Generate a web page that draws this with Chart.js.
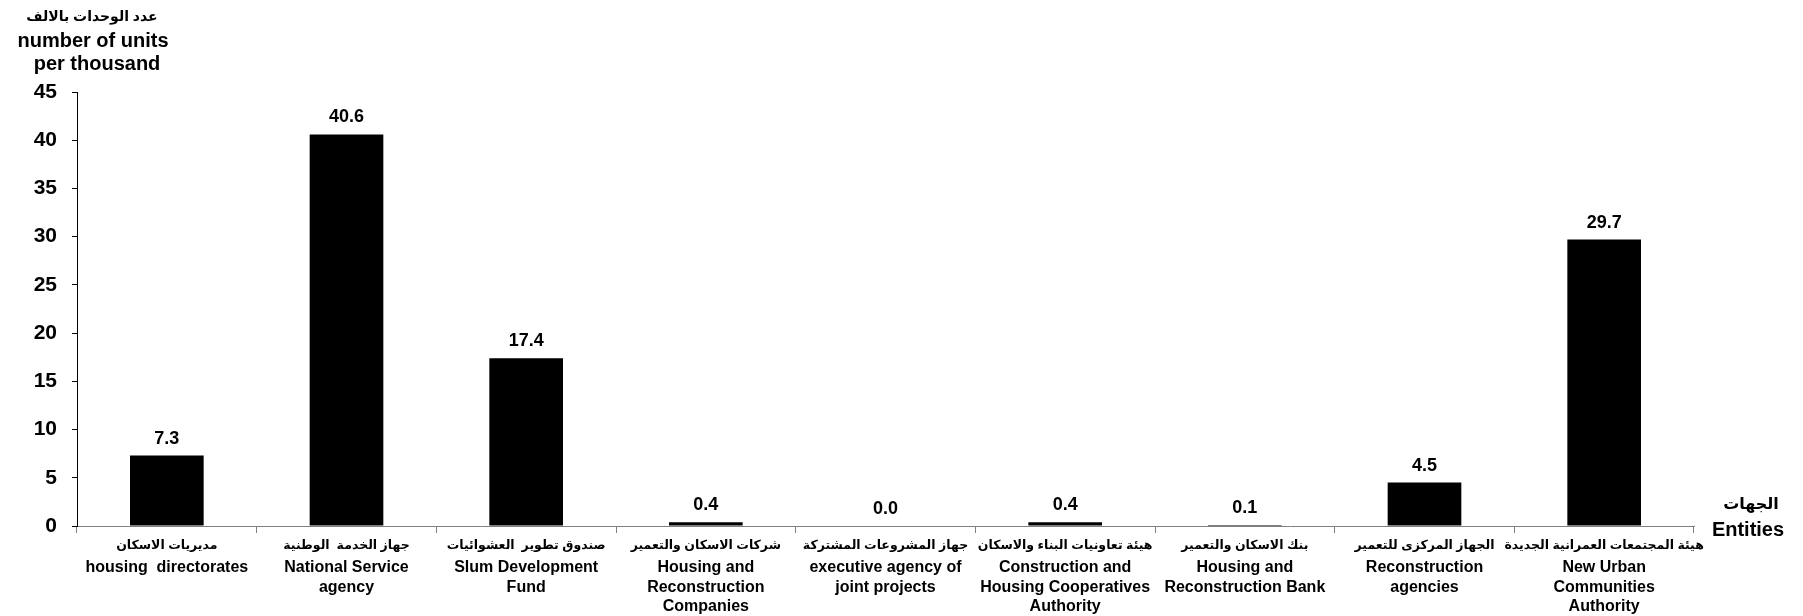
<!DOCTYPE html>
<html>
<head>
<meta charset="utf-8">
<script src="https://cdn.jsdelivr.net/npm/chart.js@4.4.1/dist/chart.umd.min.js"></script>
<style>
  body { margin: 0; background: #fff; }
  #wrap { width: 1803px; height: 616px; }
</style>
</head>
<body>
<div id="wrap"><canvas id="barChart" width="1803" height="616"></canvas></div>
<script>
// data
const categoriesAr = [
  'مديريات الاسكان',
  'جهاز الخدمة  الوطنية',
  'صندوق تطوير  العشوائيات',
  'شركات الاسكان والتعمير',
  'جهاز المشروعات المشتركة',
  'هيئة تعاونيات البناء والاسكان',
  'بنك الاسكان والتعمير',
  'الجهاز المركزى للتعمير',
  'هيئة المجتمعات العمرانية الجديدة'
];
const categoriesEn = [
  ['housing  directorates'],
  ['National Service', 'agency'],
  ['Slum Development', 'Fund'],
  ['Housing and', 'Reconstruction', 'Companies'],
  ['executive agency of', 'joint projects'],
  ['Construction and', 'Housing Cooperatives', 'Authority'],
  ['Housing and', 'Reconstruction Bank'],
  ['Reconstruction', 'agencies'],
  ['New Urban', 'Communities', 'Authority']
];
const units = [7.3, 40.6, 17.4, 0.4, 0.0, 0.4, 0.1, 4.5, 29.7];
const yMin = 0, yMax = 45, yStep = 5;
const yTitle = ['عدد الوحدات بالالف', 'number of units', 'per thousand'];
const xTitle = ['الجهات', 'Entities'];

const FONT = '"Liberation Sans", Arial, "DejaVu Sans", sans-serif';

// values above bars + axis titles + category labels
const extraText = {
  id: 'extraText',
  afterDatasetsDraw(chart) {
    const ctx = chart.ctx;
    const meta = chart.getDatasetMeta(0);
    ctx.save();
    ctx.fillStyle = '#000';
    ctx.textAlign = 'center';
    ctx.textBaseline = 'alphabetic';
    ctx.font = 'bold 18px ' + FONT;
    meta.data.forEach(function (bar, i) {
      ctx.fillText(units[i].toFixed(1), bar.x, bar.y - 12);
    });

    // category labels (arabic line + english lines)
    const xScale = chart.scales.x;
    categoriesAr.forEach(function (ar, i) {
      const cx = xScale.getPixelForValue(i);
      ctx.font = 'bold 12.5px ' + FONT;
      ctx.fillText(ar, cx, 549);
      ctx.font = 'bold 16px ' + FONT;
      categoriesEn[i].forEach(function (line, j) {
        ctx.fillText(line, cx, 572 + j * 19.5);
      });
    });

    // y title
    ctx.font = 'bold 14px ' + FONT;
    ctx.fillText(yTitle[0], 92, 21);
    ctx.font = 'bold 20px ' + FONT;
    ctx.fillText(yTitle[1], 93, 47);
    ctx.fillText(yTitle[2], 97, 70);

    // x title
    ctx.font = 'bold 16px ' + FONT;
    ctx.fillText(xTitle[0], 1751, 509);
    ctx.font = 'bold 20px ' + FONT;
    ctx.fillText(xTitle[1], 1748, 536);
    ctx.restore();
  }
};

new Chart(document.getElementById('barChart'), {
  type: 'bar',
  data: {
    labels: categoriesEn.map(function (l) { return l.join(' '); }),
    datasets: [
      {
        data: units,
        backgroundColor: '#000',
        borderWidth: 0,
        barPercentage: 0.41,
        categoryPercentage: 1,
      },
    ],
  },
  options: {
    responsive: false,
    animation: false,
    layout: { padding: { top: 92, right: 109, left: 0, bottom: 0 } },
    plugins: {
      legend: { display: false },
      tooltip: { enabled: false },
    },
    scales: {
      x: {
        offset: true,
        grid: { drawOnChartArea: false, color: '#808080', tickLength: 7, offset: true },
        border: { color: '#808080', width: 1 },
        ticks: { display: false },
        afterFit: function (s) { s.height = 90; },
      },
      y: {
        min: yMin,
        max: yMax,
        ticks: {
          stepSize: yStep,
          color: '#000',
          padding: 15,
          font: { family: FONT, size: 21, weight: 'bold' },
        },
        grid: { drawOnChartArea: false, color: '#000', tickLength: 5 },
        border: { color: '#000', width: 1 },
        afterFit: function (s) { s.width = 77; },
      },
    },
  },
  plugins: [extraText],
});
</script>
</body>
</html>
